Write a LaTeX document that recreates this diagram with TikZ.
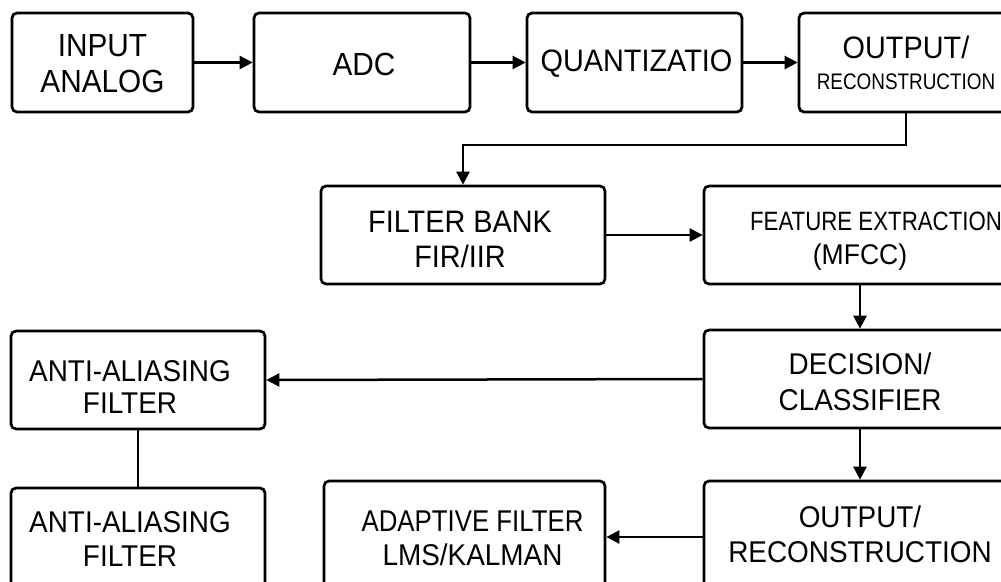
\documentclass[tikz,border=0pt]{standalone}
\usepackage{fontspec}
\setmainfont{Liberation Sans}[FakeStretch=0.93]
\newfontfamily\narrowa{Liberation Sans}[FakeStretch=0.84]
\newfontfamily\narrowb{Liberation Sans}[FakeStretch=0.86]
\usetikzlibrary{arrows.meta}

\begin{document}
\begin{tikzpicture}[x=1pt,y=-1pt,
  blk/.style={draw=black, line width=2.7pt, rounded corners=5pt, fill=white, inner sep=0pt},
  txt/.style={align=center, inner sep=0pt},
  arr/.style={line width=2.5pt, -{Triangle[length=13pt,width=13pt]}},
  link/.style={line width=2.5pt}]
\useasboundingbox (0,0) rectangle (1001,581);
\clip (0,0) rectangle (1001,581);
\fill[white] (0,0) rectangle (1001,581);

% ---- boxes ----
\node[blk, minimum width=181pt, minimum height=99pt]  (in)    at (102.5,62.5) {};
\node[blk, minimum width=216pt, minimum height=99pt]  (adc)   at (362,62.5)   {};
\node[blk, minimum width=215pt, minimum height=99pt]  (quant) at (634.5,62.5) {};
\node[blk, minimum width=214pt, minimum height=99pt]  (outa)  at (906,62.5)   {};
\node[blk, minimum width=284pt, minimum height=98pt]  (bank)  at (463,235)    {};
\node[blk, minimum width=312pt, minimum height=98pt]  (feat)  at (860,235)    {};
\node[blk, minimum width=312pt, minimum height=98pt]  (dec)   at (860,379)    {};
\node[blk, minimum width=254pt, minimum height=98pt]  (aa1)   at (138,380)    {};
\node[blk, minimum width=254pt, minimum height=104pt] (aa2)   at (138,540)    {};
\node[blk, minimum width=281pt, minimum height=112pt] (adap)  at (464.5,537)  {};
\node[blk, minimum width=312pt, minimum height=112pt] (outb)  at (860,537)    {};

% ---- box captions ----
\node[txt, font=\fontsize{32}{36}\selectfont] (in-t) at ([yshift=-1.5pt]in.center) {INPUT\\ANALOG};
\node[txt, font=\fontsize{32}{36}\selectfont] (adc-t) at ([xshift=2pt,yshift=-1.5pt]adc.center) {ADC};
\node[txt, font=\fontsize{31}{36}\selectfont] (quant-t) at ([xshift=2pt,yshift=-1pt]quant.center) {QUANTIZATIO};
\node[txt, font=\fontsize{31}{31}\selectfont] (outa-t) at (outa.center)
  {OUTPUT/\\{\narrowa\fontsize{22.5}{31}\selectfont RECONSTRUCTION}};
\node[txt, font=\fontsize{31}{35}\selectfont] (bank-t) at ([xshift=-3pt,yshift=-4.5pt]bank.center) {FILTER BANK\\FIR/IIR};
\node[txt, font=\fontsize{28.5}{34}\selectfont] (feat-t) at ([yshift=-6pt]feat.center)
  {\hspace*{32pt}{\narrowa\fontsize{26.5}{34}\selectfont FEATURE EXTRACTION}\\(MFCC)};
\node[txt, font=\fontsize{30}{36}\selectfont] (dec-t) at ([yshift=-3pt]dec.center) {DECISION/\\CLASSIFIER};
\node[txt, font=\fontsize{30}{32}\selectfont] (aa1-t) at ([xshift=-8pt,yshift=-7pt]aa1.center) {ANTI-ALIASING\\FILTER};
\node[txt, font=\fontsize{30}{34}\selectfont] (aa2-t) at ([xshift=-8pt,yshift=1pt]aa2.center) {ANTI-ALIASING\\FILTER};
\node[txt, font=\fontsize{30}{34}\selectfont] (adap-t) at ([xshift=8pt,yshift=-1pt]adap.center)
  {{\narrowb ADAPTIVE FILTER}\\LMS/KALMAN};
\node[txt, font=\fontsize{30}{35}\selectfont] (outb-t) at ([yshift=3pt]outb.center) {OUTPUT/\\RECONSTRUCTION};

% ---- connectors ----
\draw[arr] (in.east) -- (adc.west);
\draw[arr] (adc.east) -- (quant.west);
\draw[arr] (quant.east) -- (outa.west);
\coordinate (bend) at (906,145);
\draw[arr] (outa.south) -- (bend) -| (bank.north);
\draw[arr] (bank.east) -- (feat.west);
\draw[arr] (feat.south) -- (dec.north);
\draw[arr] (dec.west) -- (aa1.east);
\draw[link] (aa1.south) -- (aa2.north);
\draw[arr] (dec.south) -- (outb.north);
\draw[arr] (outb.west) -- (adap.east);
\end{tikzpicture}
\end{document}
